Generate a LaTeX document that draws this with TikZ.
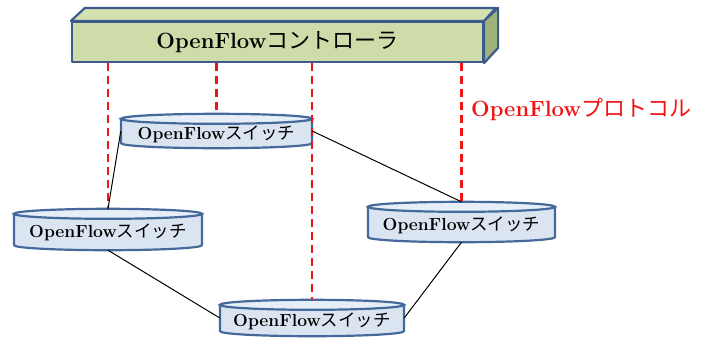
\documentclass[tikz,border=0pt]{standalone}
\usepackage{fontspec}
\newfontfamily\cjk{Noto Sans CJK JP}
\usetikzlibrary{calc,backgrounds}

\definecolor{ctrlfront}{RGB}{205,220,168}
\definecolor{ctrltop}{RGB}{212,226,178}
\definecolor{ctrlside}{RGB}{160,178,124}
\definecolor{ctrledge}{RGB}{60,90,140}
\definecolor{swfill}{RGB}{219,229,241}
\definecolor{swtop}{RGB}{230,238,248}
\definecolor{swedge}{RGB}{70,105,155}
\definecolor{protored}{RGB}{240,20,20}

% cylinder outline behind a switch node: name, half width
\newcommand\swcyl[2]{%
  \begin{scope}[on background layer]
    \filldraw[cylbody] ([xshift=-#2pt]#1.north) -- ([xshift=-#2pt]#1.south)
      arc[start angle=180,end angle=360,x radius=#2pt,y radius=5pt]
      -- ([xshift=#2pt]#1.north) -- cycle;
    \filldraw[cyltop] (#1.north) ellipse[x radius=#2pt,y radius=5pt];
  \end{scope}}

\begin{document}
\begin{tikzpicture}[x=1pt,y=-1pt,
  ctrlbox/.style={draw=ctrledge,line width=2.2pt,fill=ctrlfront,line join=round,
    minimum width=411pt,minimum height=40pt,inner sep=0pt,
    font=\fontsize{22}{22}\selectfont},
  ctrlface/.style={draw=ctrledge,line width=2.2pt,line join=round},
  switch/.style={inner sep=0pt,text height=16pt,text depth=0pt,
    font=\fontsize{17.5}{17.5}\selectfont},
  cylbody/.style={draw=swedge,fill=swfill,line width=2.2pt,line join=round},
  cyltop/.style={draw=swedge,fill=swtop,line width=2.2pt},
  proto/.style={draw=protored,line width=2.4pt,dash pattern=on 8pt off 5pt},
  link/.style={draw=black,line width=1pt},
  protolabel/.style={text=protored,inner sep=0pt,font=\fontsize{22}{22}\selectfont}]
\useasboundingbox (0,0) rectangle (709,338);

% controller block
\node[ctrlbox] (ctrl) at (277.5,42) {{\bfseries OpenFlow}{\cjk コントローラ}};
\filldraw[ctrlface,fill=ctrltop] (ctrl.north west) -- ++(14,-13) -- ++(411,0)
  -- (ctrl.north east) -- cycle;
\filldraw[ctrlface,fill=ctrlside] (ctrl.north east) -- ++(14,-13) -- ++(0,40)
  -- (ctrl.south east) -- cycle;

% switches
\node[switch,minimum width=191pt,minimum height=24pt] (swT) at (216.5,131)
  {{\bfseries OpenFlow}{\cjk スイッチ}};
\node[switch,minimum width=188pt,minimum height=31pt] (swL) at (108,229.5)
  {{\bfseries OpenFlow}{\cjk スイッチ}};
\node[switch,minimum width=187pt,minimum height=30pt] (swR) at (461.5,222)
  {{\bfseries OpenFlow}{\cjk スイッチ}};
\node[switch,minimum width=184pt,minimum height=26pt] (swB) at (312,318)
  {{\bfseries OpenFlow}{\cjk スイッチ}};
\swcyl{swT}{95.5}
\swcyl{swL}{94}
\swcyl{swR}{93.5}
\swcyl{swB}{92}

% protocol label
\node[protolabel,anchor=west] (plabel) at (471,109) {{\bfseries OpenFlow}{\cjk プロトコル}};

% control channels
\draw[proto] (swL.north |- ctrl.south) -- ([yshift=5pt]swL.north);
\draw[proto] (swT.north |- ctrl.south) -- ([yshift=5pt]swT.north);
\draw[proto] (swB.north |- ctrl.south) -- ([yshift=5pt]swB.north);
\draw[proto] (swR.north |- ctrl.south) -- ([yshift=5pt]swR.north);

% data links
\draw[link] ([yshift=5pt]swL.north) -- (swT.west);
\draw[link] (swT.east) -- ([yshift=5pt]swR.north);
\draw[link] ([yshift=-5pt]swL.south) -- (swB.west);
\draw[link] ([yshift=-5pt]swR.south) -- (swB.east);
\end{tikzpicture}
\end{document}
